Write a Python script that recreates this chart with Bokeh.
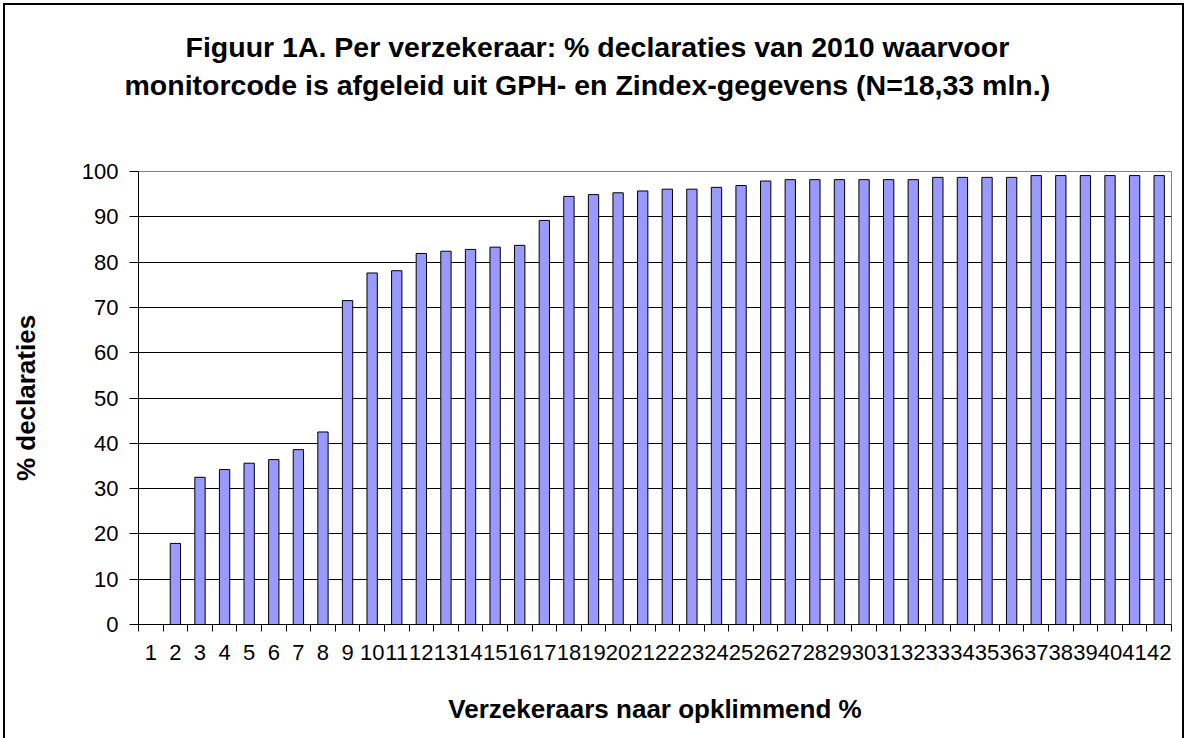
from bokeh.plotting import figure
from bokeh.models import Range1d, FixedTicker, Title, InlineStyleSheet
from bokeh.embed import file_html
from bokeh.resources import INLINE

title_lines = [
    "Figuur 1A. Per verzekeraar: % declaraties van 2010 waarvoor",
    "monitorcode is afgeleid uit GPH- en Zindex-gegevens (N=18,33 mln.)",
]
x_title = "Verzekeraars naar opklimmend %"
y_title = "% declaraties"

categories = list(range(1, 43))
tick_labels = [str(c) for c in categories]
values = [0, 17.9, 32.5, 34.2, 35.6, 36.4, 38.6, 42.5, 71.5, 77.6,
          78.1, 81.9, 82.4, 82.8, 83.3, 83.7, 89.2, 94.5, 94.9, 95.3,
          95.7, 96.1, 96.1, 96.5, 96.9, 97.9, 98.2, 98.2, 98.2, 98.2,
          98.2, 98.2, 98.7, 98.7, 98.7, 98.7, 99.1, 99.1, 99.1, 99.1,
          99.1, 99.1]
y_ticks = list(range(0, 101, 10))

FONT = "Liberation Sans"
W, H = 1187, 738

border_css = InlineStyleSheet(css="""
:host { position: relative; }
:host::after {
  content: "";
  position: absolute;
  left: 3px; top: 3px; right: 3px; bottom: 0px;
  border: 2px solid black;
  border-bottom: none;
  pointer-events: none;
  z-index: 100;
}
""")

p = figure(width=W, height=H, output_backend="svg", toolbar_location=None,
           x_range=Range1d(0.5, len(categories) + 0.5), y_range=Range1d(0, 100),
           min_border_left=138, min_border_right=16, min_border_top=171,
           min_border_bottom=114)
p.stylesheets = [border_css]

p.title.visible = False
spacer = Title(text=" ", text_font_size="1px", standoff=68)
t2 = Title(text=title_lines[1], align="left", text_font=FONT,
           text_font_size="28.5px", text_font_style="bold", text_color="black",
           standoff=0, offset=-14)
t1 = Title(text=title_lines[0], align="left", text_font=FONT,
           text_font_size="28.5px", text_font_style="bold", text_color="black",
           standoff=8, offset=47)
p.add_layout(spacer, "above")
p.add_layout(t2, "above")
p.add_layout(t1, "above")

p.vbar(x=categories, top=values, width=0.42, bottom=0,
       fill_color="#9999FF", line_color="black", line_width=1)

p.outline_line_color = "#808080"
p.outline_line_width = 1
p.background_fill_color = "white"
p.border_fill_color = "white"

# x axis
p.xaxis.ticker = FixedTicker(ticks=categories,
                             minor_ticks=[c - 0.5 for c in categories] + [categories[-1] + 0.5])
p.xaxis.major_label_overrides = {c: l for c, l in zip(categories, tick_labels)}
p.xaxis.major_tick_line_color = None
p.xaxis.major_tick_out = 7
p.xaxis.major_tick_in = 0
p.xaxis.minor_tick_out = 7
p.xaxis.minor_tick_in = 0
p.xaxis.minor_tick_line_color = "black"
p.xaxis.axis_line_color = "black"
p.xaxis.axis_line_width = 1
p.xaxis.major_label_text_font = FONT
p.xaxis.major_label_text_font_size = "22px"
p.xaxis.major_label_text_color = "black"
p.xaxis.major_label_standoff = 13
p.xaxis.axis_label = x_title
p.xaxis.axis_label_text_font = FONT
p.xaxis.axis_label_text_font_size = "26px"
p.xaxis.axis_label_text_font_style = "bold"
p.xaxis.axis_label_text_color = "black"
p.xaxis.axis_label_standoff = 31

# y axis
p.yaxis.ticker = FixedTicker(ticks=y_ticks)
p.yaxis.major_tick_out = 9
p.yaxis.major_tick_in = 0
p.yaxis.major_tick_line_color = "black"
p.yaxis.minor_tick_line_color = None
p.yaxis.axis_line_color = "black"
p.yaxis.major_label_text_font = FONT
p.yaxis.major_label_text_font_size = "22px"
p.yaxis.major_label_text_color = "black"
p.yaxis.major_label_standoff = 11
p.yaxis.axis_label = y_title
p.yaxis.axis_label_text_font = FONT
p.yaxis.axis_label_text_font_size = "26px"
p.yaxis.axis_label_text_font_style = "bold"
p.yaxis.axis_label_text_color = "black"
p.yaxis.axis_label_standoff = 38

p.xgrid.visible = False
p.ygrid.ticker = FixedTicker(ticks=[t for t in y_ticks if 0 < t < 100])
p.ygrid.grid_line_color = "black"
p.ygrid.grid_line_width = 1

open("out.html", "w").write(file_html(p, INLINE))
